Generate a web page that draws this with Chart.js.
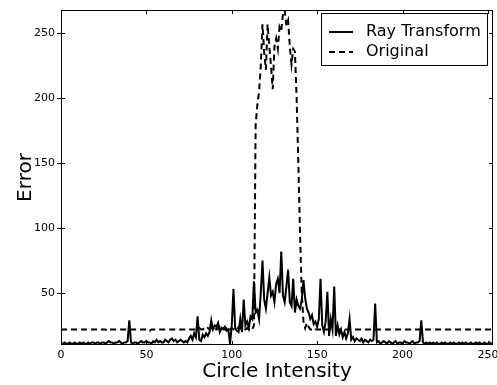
<!DOCTYPE html>
<html>
<head>
<meta charset="utf-8">
<title>Circle Intensity vs Error</title>
<script src="https://cdn.jsdelivr.net/npm/chart.js@4.4.1/dist/chart.umd.min.js"></script>
<style>
  html, body { margin: 0; padding: 0; background: #fff; }
  #chart { display: block; }
</style>
</head>
<body>
<canvas id="chart" width="497" height="385"></canvas>
<script>
// Tick labels
const xTicks = [0, 50, 100, 150, 200, 250];
const yTicks = [50, 100, 150, 200, 250];
const seriesNames = ['Ray Transform', 'Original'];

// Error per circle intensity (index = intensity 0..253)
const rayTransform = [
  11, 11, 12, 11, 11, 12, 11, 11, 12, 11,
  11, 12, 11, 12, 11, 11, 12, 11, 12, 12,
  11, 12, 12, 11, 12, 12, 11, 12, 13, 12,
  12, 11, 12, 12, 13, 12, 11, 12, 12, 13,
  29, 12, 11, 12, 12, 11, 12, 13, 12, 12,
  13, 12, 12, 11, 13, 12, 14, 12, 13, 12,
  12, 14, 13, 12, 14, 15, 13, 14, 12, 13,
  14, 13, 12, 13, 12, 15, 17, 14, 19, 16,
  32, 14, 13, 18, 16, 19, 17, 20, 29, 22,
  25, 24, 27, 20, 23, 22, 24, 21, 22, 11,
  25, 53, 23, 21, 20, 30, 20, 45, 25, 28,
  23, 32, 30, 59, 35, 37, 30, 50, 75, 45,
  38, 50, 62, 48, 51, 43, 57, 61, 50, 82,
  48, 43, 55, 68, 43, 40, 61, 35, 45, 40,
  38, 45, 60, 46, 38, 35, 30, 33, 26, 28,
  24, 30, 61, 25, 20, 28, 51, 17, 30, 22,
  55, 17, 25, 18, 22, 16, 20, 15, 19, 30,
  14, 16, 13, 15, 14, 13, 15, 12, 14, 13,
  12, 14, 13, 14, 42, 12, 13, 11, 12, 13,
  12, 11, 13, 12, 11, 12, 13, 11, 12, 12,
  11, 13, 12, 12, 11, 12, 13, 11, 12, 12,
  13, 29, 12, 11, 12, 11, 12, 11, 12, 11,
  12, 11, 11, 12, 11, 12, 11, 11, 12, 11,
  12, 11, 11, 12, 11, 12, 11, 12, 11, 11,
  12, 11, 11, 12, 11, 12, 11, 11, 12, 11,
  11, 12, 11, 11
];

const original = [
  22, 22, 22, 22, 22, 22, 22, 22, 22, 22,
  22, 22, 22, 22, 22, 22, 22, 22, 22, 22,
  22, 22, 22, 22, 22, 22, 22, 21, 22, 22,
  22, 22, 22, 22, 22, 22, 22, 22, 22, 22,
  22, 22, 22, 22, 22, 22, 22, 22, 22, 22,
  22, 22, 21, 22, 22, 22, 22, 22, 22, 22,
  22, 22, 22, 22, 22, 22, 22, 22, 22, 22,
  22, 22, 22, 22, 22, 22, 22, 22, 22, 22,
  22, 23, 22, 22, 23, 22, 23, 22, 23, 22,
  23, 22, 23, 24, 22, 23, 22, 23, 24, 22,
  23, 22, 23, 22, 24, 23, 22, 23, 22, 23,
  22, 23, 22, 25, 180, 195, 205, 225, 257, 235,
  222, 257, 240, 225, 207, 240, 246, 238, 255, 252,
  265, 268, 256, 260, 240, 226, 238, 236, 200, 150,
  95, 50, 28, 23, 27, 24, 22, 22, 21, 22,
  22, 22, 22, 22, 22, 22, 22, 22, 22, 22,
  22, 22, 22, 22, 22, 22, 22, 22, 22, 22,
  22, 22, 22, 22, 22, 22, 22, 22, 22, 22,
  22, 22, 22, 22, 22, 22, 22, 22, 22, 22,
  22, 22, 22, 22, 22, 22, 22, 22, 22, 22,
  22, 22, 22, 22, 22, 22, 22, 22, 22, 22,
  22, 22, 22, 22, 22, 22, 22, 22, 22, 22,
  22, 22, 22, 22, 22, 22, 22, 22, 22, 22,
  22, 22, 22, 22, 22, 22, 22, 22, 22, 22,
  22, 22, 22, 22, 22, 22, 22, 22, 22, 22,
  22, 22, 22, 22
];

const FONT = "'DejaVu Sans', 'Liberation Sans', sans-serif";
const DASH = [6, 4];

function toPoints(values) {
  return values.map((v, i) => ({ x: i, y: v }));
}

// Axes box, tick marks and a matplotlib style legend
const framePlugin = {
  id: 'frame',
  afterDatasetsDraw(chart) {
    const { ctx, chartArea: a, scales } = chart;
    ctx.save();
    ctx.strokeStyle = '#000';
    ctx.lineWidth = 1;
    ctx.setLineDash([]);
    ctx.strokeRect(a.left + 0.5, a.top + 0.5, a.right - a.left - 1, a.bottom - a.top - 1);

    ctx.beginPath();
    xTicks.forEach(v => {
      const x = Math.round(scales.x.getPixelForValue(v)) + 0.5;
      ctx.moveTo(x, a.bottom); ctx.lineTo(x, a.bottom - 4);
      ctx.moveTo(x, a.top); ctx.lineTo(x, a.top + 4);
    });
    yTicks.forEach(v => {
      const y = Math.round(scales.y.getPixelForValue(v)) + 0.5;
      ctx.moveTo(a.left - 4, y); ctx.lineTo(a.left + 4, y);
      ctx.moveTo(a.right, y); ctx.lineTo(a.right - 4, y);
    });
    ctx.stroke();

    // legend
    const bx = a.right - 172, by = a.top + 3, bw = 166, bh = 52;
    ctx.fillStyle = '#fff';
    ctx.fillRect(bx, by, bw, bh);
    ctx.strokeRect(bx + 0.5, by + 0.5, bw, bh);
    ctx.font = '16px ' + FONT;
    ctx.textBaseline = 'middle';
    ctx.fillStyle = '#000';
    chart.data.datasets.forEach((ds, i) => {
      const y = by + 19 + i * 20;
      ctx.lineWidth = 2;
      ctx.setLineDash(ds.borderDash || []);
      ctx.beginPath();
      ctx.moveTo(bx + 8, y);
      ctx.lineTo(bx + 32, y);
      ctx.stroke();
      ctx.setLineDash([]);
      ctx.fillText(ds.label, bx + 45, y);
    });
    ctx.restore();
  }
};

const chart = new Chart(document.getElementById('chart'), {
  type: 'line',
  data: {
    datasets: [{
      label: seriesNames[0],
      data: toPoints(rayTransform),
      borderColor: '#000',
      borderWidth: 2,
      pointRadius: 0,
      tension: 0,
      fill: false
    }, {
      label: seriesNames[1],
      data: toPoints(original),
      borderColor: '#000',
      borderWidth: 2,
      borderDash: DASH,
      pointRadius: 0,
      tension: 0,
      fill: false
    }]
  },
  options: {
    responsive: false,
    animation: false,
    devicePixelRatio: 1,
    layout: { padding: { top: 10, right: 4, left: 0, bottom: 0 } },
    plugins: {
      legend: { display: false },
      tooltip: { enabled: false }
    },
    scales: {
      x: {
        type: 'linear',
        min: 0,
        max: 253,
        grid: { display: false, drawTicks: false },
        border: { display: false },
        ticks: { color: '#000', font: { family: FONT, size: 11 }, padding: 4, maxRotation: 0 },
        title: {
          display: true,
          text: 'Circle Intensity',
          color: '#000',
          font: { family: FONT, size: 20 },
          padding: { top: 0, bottom: 1 }
        },
        afterBuildTicks: scale => { scale.ticks = xTicks.map(v => ({ value: v })); },
        afterFit: scale => {
          scale.height = 40;
          scale.paddingLeft = 0;
          scale.paddingRight = 0;
        }
      },
      y: {
        type: 'linear',
        min: 10,
        max: 268,
        grid: { display: false, drawTicks: false },
        border: { display: false },
        ticks: { color: '#000', font: { family: FONT, size: 11 }, padding: 6 },
        title: {
          display: true,
          text: 'Error',
          color: '#000',
          font: { family: FONT, size: 20 },
          padding: { top: 14, bottom: 0 }
        },
        afterBuildTicks: scale => { scale.ticks = yTicks.map(v => ({ value: v })); },
        afterFit: scale => {
          scale.width = 61;
          scale.paddingTop = 0;
          scale.paddingBottom = 0;
        }
      }
    }
  },
  plugins: [framePlugin]
});
</script>
</body>
</html>
